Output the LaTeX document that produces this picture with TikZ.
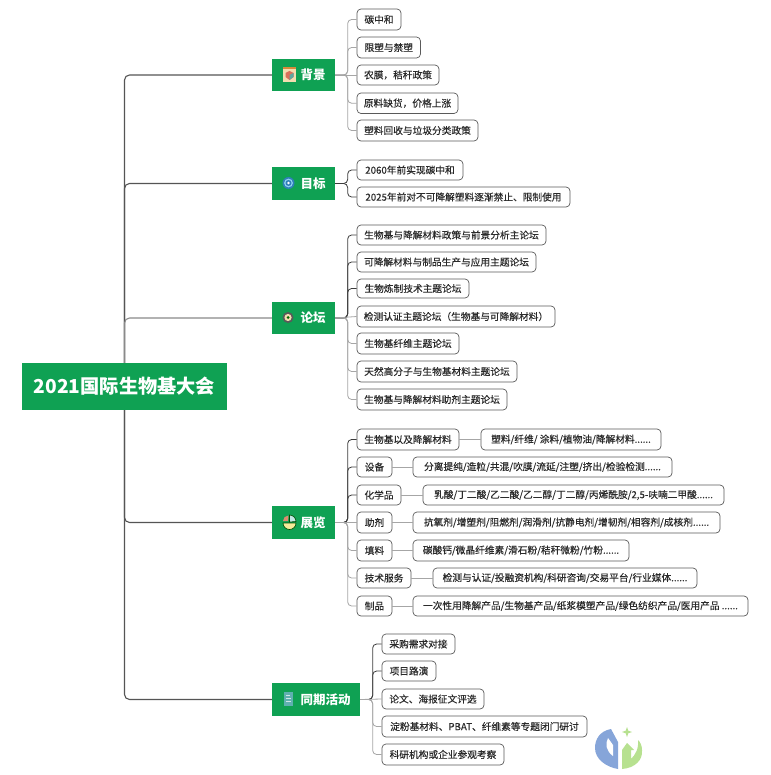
\documentclass[tikz,border=0pt]{standalone}
\usepackage{fontspec}
\setmainfont{Noto Sans CJK SC}
\newfontfamily\kidfont[FakeBold=0.25]{Noto Sans CJK SC}
\definecolor{mmgreen}{HTML}{0FA153}
\definecolor{mmtext}{HTML}{2A2A2A}
\definecolor{mmedge}{HTML}{5A5A5A}
\definecolor{lineD}{HTML}{3C3C3C}
\definecolor{lineG}{HTML}{A6A6A6}
\definecolor{lineM}{HTML}{555555}
\definecolor{lineT}{HTML}{8A8A8A}
\definecolor{logoB}{HTML}{86A5D9}
\definecolor{logoG}{HTML}{B7E190}
\definecolor{bookT}{HTML}{F3DDB0}
\definecolor{bookO}{HTML}{D98A3A}
\definecolor{cubeR}{HTML}{D9705A}
\definecolor{cubeB}{HTML}{5FA8A0}
\definecolor{tgtD}{HTML}{2F7FB8}
\definecolor{tgtL}{HTML}{8CD0F0}
\definecolor{pieY}{HTML}{F5EB9A}
\definecolor{pieC}{HTML}{BFE8E4}
\definecolor{pieR}{HTML}{E08A70}
\definecolor{docT}{HTML}{5FB0B0}
\tikzset{
  kid/.style={draw=mmedge,line width=0.7pt,rounded corners=4pt,fill=white,inner sep=0pt,text=mmtext,font=\kidfont\fontsize{9.7}{12}\selectfont},
  topicbox/.style={fill=mmgreen,inner sep=0pt,text=white,font=\fontsize{12.5}{15}\selectfont\bfseries},
  rootbox/.style={fill=mmgreen,inner sep=0pt,text=white,font=\fontsize{19.2}{24}\selectfont\bfseries},
  dk/.style={draw=lineD,line width=0.8pt,rounded corners=4pt},
  gy/.style={draw=lineG,line width=0.8pt,rounded corners=4pt},
  mn/.style={draw=lineM,line width=1.1pt,rounded corners=5pt},
  mg/.style={draw=lineT,line width=1.1pt,rounded corners=5pt}
}
\newcommand{\bx}[7][kid]{\node[#1,minimum width={(#5-#3)*1pt},minimum height={(#6-#4)*1pt}] (#2) at ({(#3+#5)/2},{(#4+#6)/2}) {#7};}
\newcommand{\tp}[6]{\bx[topicbox]{#1}{#2}{#3}{#4}{#5}{\hspace*{19pt}#6}}
\newcommand{\arm}[3]{\draw[#1] (#2.east) -| ([xshift=-9pt]#3.west) -- (#3.west);}
\begin{document}
\begin{tikzpicture}[x=1pt,y=-1pt]
\path[use as bounding box,fill=white] (0,0) rectangle (770,775);
% root and topics
\bx[rootbox]{root}{22}{363}{227}{410}{2021国际生物基大会}
\tp{tA}{272}{59}{335}{91}{背景}
\tp{tB}{272}{167}{335}{200}{目标}
\tp{tC}{272}{302}{335}{334}{论坛}
\tp{tD}{272}{506}{335}{539}{展览}
\tp{tE}{272}{683}{360}{716}{同期活动}
% background
\bx{a1}{357}{9}{401}{30}{碳中和}
\bx{a2}{357}{37}{420.5}{58}{限塑与禁塑}
\bx{a3}{357}{65}{439}{85}{农膜，秸秆政策}
\bx{a4}{357}{93}{458}{113.5}{原料缺货，价格上涨}
\bx{a5}{357}{120}{478}{141}{塑料回收与垃圾分类政策}
% goals
\bx{b1}{357}{160}{463}{180}{2060年前实现碳中和}
\bx{b2}{357}{187}{570}{207}{2025年前对不可降解塑料逐渐禁止、限制使用}
% forum
\bx{c1}{357}{225}{546}{245}{生物基与降解材料政策与前景分析主论坛}
\bx{c2}{357}{252}{536}{272}{可降解材料与制品生产与应用主题论坛}
\bx{c3}{357}{279}{469}{298}{生物炼制技术主题论坛}
\bx{c4}{357}{306}{555}{327}{检测认证主题论坛（生物基与可降解材料）}
\bx{c5}{357}{333}{459}{354}{生物基纤维主题论坛}
\bx{c6}{357}{361}{517}{382}{天然高分子与生物基材料主题论坛}
\bx{c7}{357}{389}{507}{410}{生物基与降解材料助剂主题论坛}
% expo
\bx{d1}{357}{429}{459}{450}{生物基以及降解材料}
\bx{d2}{357}{457}{392}{477}{设备}
\bx{d3}{357}{485}{401}{505}{化学品}
\bx{d4}{357}{512}{392}{533}{助剂}
\bx{d5}{357}{540}{392}{561}{填料}
\bx{d6}{357}{568}{411}{588}{技术服务}
\bx{d7}{357}{596}{392}{616}{制品}
\bx{e1}{481}{429}{661}{450}{塑料/纤维/ 涂料/植物油/降解材料......}
\bx{e2}{413}{457}{672}{477}{分离提纯/造粒/共混/吹膜/流延/注塑/挤出/检验检测......}
\bx{e3}{423}{485}{724}{505}{乳酸/丁二酸/乙二酸/乙二醇/丁二醇/丙烯酰胺/2,5-呋喃二甲酸......}
\bx{e4}{413}{512}{720}{533}{抗氧剂/增塑剂/阻燃剂/润滑剂/抗静电剂/增韧剂/相容剂/成核剂......}
\bx{e5}{413}{540}{629}{561}{碳酸钙/微晶纤维素/滑石粉/秸秆微粉/竹粉......}
\bx{e6}{433}{568}{697}{588}{检测与认证/投融资机构/科研咨询/交易平台/行业媒体......}
\bx{e7}{413}{596}{748}{616}{一次性用降解产品/生物基产品/纸浆模塑产品/绿色纺织产品/医用产品 ......}
% activities
\bx{f1}{382}{634}{455}{654}{采购需求对接}
\bx{f2}{382}{661}{436}{681}{项目路演}
\bx{f3}{382}{689}{484}{709}{论文、海报征文评选}
\bx{f4}{382}{716}{587}{737}{淀粉基材料、PBAT、纤维素等专题闭门研讨}
\bx{f5}{382}{744}{504}{765}{科研机构或企业参观考察}
% main connectors
\draw[mn] (root.north) |- (tA.west);
\draw[mn] (root.north) |- (tB.west);
\draw[mg] (root.north) |- (tC.west);
\draw[mn] (root.south) |- (tD.west);
\draw[mn] (root.south) |- (tE.west);
% second level
\foreach \k in {a1,a2,a4,a5} {\arm{gy}{tA}{\k}}
\draw[gy] (tA.east) -- (a3.west);
\foreach \k in {b1,b2} {\arm{dk}{tB}{\k}}
\foreach \k in {c1,c2,c3} {\arm{dk}{tC}{\k}}
\draw[gy] (tC.east) -- (c4.west);
\foreach \k in {c5,c6,c7} {\arm{gy}{tC}{\k}}
\foreach \k in {d1,d2,d3} {\arm{dk}{tD}{\k}}
\draw[gy] (tD.east) -- (d4.west);
\foreach \k in {d5,d6,d7} {\arm{gy}{tD}{\k}}
\foreach \k in {f1,f2} {\arm{dk}{tE}{\k}}
\draw[gy] (tE.east) -- (f3.west);
\foreach \k in {f4,f5} {\arm{gy}{tE}{\k}}
% third level
\foreach \i in {1,...,7} {\draw[gy] (d\i.east) -- (e\i.west);}
% icons
% book
\fill[bookT] (283,68) rectangle (296,82);
\fill[bookO] (283,67.5) rectangle (296,69.5);
\fill[cubeR] (285.5,73) -- (289.5,71) -- (293.5,73) -- (293.5,77) -- (289.5,80) -- (285.5,77) -- cycle;
\fill[cubeB] (289.5,75) -- (293.5,73) -- (293.5,77) -- (289.5,80) -- cycle;
% target
\fill[tgtD] (288.5,183) circle (6pt);
\fill[tgtL] (288.5,183) circle (4.4pt);
\fill[tgtD] (288.5,183) circle (3pt);
\fill[white] (288.5,183) circle (1.4pt);
% forum
\fill[black!65] (288,317.5) circle (5.5pt);
\fill[bookT] (288,317.5) circle (3.6pt);
\fill[green!40!black] (288,317.5) circle (1.5pt);
% pie
\fill[pieY] (283,523) arc[start angle=180,end angle=360,radius=6.5pt] -- cycle;
\fill[pieC] (289.5,522) -- (289.5,515) arc[start angle=90,end angle=0,radius=6.5pt] -- cycle;
\fill[pieR] (288,521) -- (283,521) arc[start angle=180,end angle=90,radius=5.5pt] -- cycle;
\draw[black!70!green,line width=0.6pt] (283,523) arc[start angle=180,end angle=360,radius=6.5pt] -- cycle;
\draw[black!70!green,line width=0.6pt] (289.5,522) -- (289.5,515) arc[start angle=90,end angle=0,radius=6.5pt] -- cycle;
% document
\fill[docT] (283.5,692) rectangle (293,706);
\fill[white,opacity=0.7] (285.5,695) rectangle (290,696);
\fill[white,opacity=0.7] (285.5,698) rectangle (291,699);
\fill[white,opacity=0.7] (285.5,701) rectangle (291,702);
% watermark
\fill[logoB] (611,729) .. controls (600,731) and (595,739) .. (595,748) .. controls (595,759) and (606,767) .. (618,769) -- (618,742) -- cycle;
\fill[white] (608,738) .. controls (605,744) and (606,751) .. (613,756) -- (613,745) -- cycle;
\fill[logoG] (622,769) .. controls (635,768) and (643,760) .. (642,750) .. controls (642,745) and (640,742) .. (638,740) .. controls (639,749) and (635,755) .. (631,759) -- (631,750) -- (634,750) -- (627,743) -- (622,750) -- cycle;
\fill[logoG] (627,727) -- (628.3,730.7) -- (632,732) -- (628.3,733.3) -- (627,737) -- (625.7,733.3) -- (622,732) -- (625.7,730.7) -- cycle;
\end{tikzpicture}
\end{document}
